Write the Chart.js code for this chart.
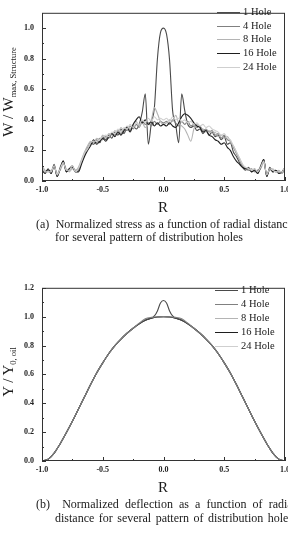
<!DOCTYPE html>
<html>
<head>
<meta charset="utf-8">
<script src="https://cdn.jsdelivr.net/npm/chart.js@4.4.1/dist/chart.umd.min.js"></script>
<style>
  html, body { margin: 0; padding: 0; width: 288px; height: 533px; overflow: hidden; background: #fff; }
  body { position: relative; font-family: 'Liberation Serif', 'Times New Roman', serif; color: #1a1a1a; }
  .box { position: absolute; left: 0; width: 300px; }
  .ytitle { position: absolute; white-space: nowrap; font-size: 15px; line-height: 15px; transform: translate(-50%, -50%) rotate(-90deg); }
  .ytitle sub { font-size: 8.5px; vertical-align: -3px; }
  .xtitle { position: absolute; font-size: 15px; line-height: 15px; transform: translate(-50%, -50%); }
  .cap { position: absolute; font-size: 12px; line-height: 13px; white-space: nowrap; text-align: justify; text-align-last: justify; color: #1a1a1a; }
  .leg { position: absolute; font-size: 10.5px; line-height: 12px; white-space: nowrap; }
  .leg span { display: inline-block; vertical-align: middle; height: 0; border-top: 1.2px solid; margin-right: 3px; }
</style>
</head>
<body>
<div class="box" style="top:0;height:200px"><canvas id="cA"></canvas></div>
<div class="box" style="top:275px;height:205px"><canvas id="cB"></canvas></div>

<div class="ytitle" style="left:11px;top:92px">W / W<sub>max, Structure</sub></div>
<div class="xtitle" style="left:163px;top:207px">R</div>
<div class="cap" style="left:36px;top:218px;width:257px">(a)&nbsp; Normalized stress as a function of radial distance</div>
<div class="cap" style="left:55px;top:231px;width:188px">for several pattern of distribution holes</div>

<div class="ytitle" style="left:11px;top:372px">Y / Y<sub>0, oil</sub></div>
<div class="xtitle" style="left:163px;top:487px">R</div>
<div class="cap" style="left:36px;top:498px;width:260px">(b)&nbsp; Normalized deflection as a function of radial</div>
<div class="cap" style="left:55px;top:512px;width:238px">distance for several pattern of distribution holes</div>

<div id="legA"></div>
<div id="legB"></div>

<script>
// ---- datos ----
const seriesNames = ['1 Hole', '4 Hole', '8 Hole', '16 Hole', '24 Hole'];
const seriesColors = ['#4a4a4a', '#808080', '#b4b4b4', '#1e1e1e', '#cfcfcf'];

const xTicks = [-1, -0.5, 0, 0.5, 1];
const xMinor = [-0.75, -0.25, 0.25, 0.75];
const yTicksA = [0, 0.2, 0.4, 0.6, 0.8, 1.0];
const yMinorA = [0.1, 0.3, 0.5, 0.7, 0.9];
const yTicksB = [0, 0.2, 0.4, 0.6, 0.8, 1.0, 1.2];
const yMinorB = [0.1, 0.3, 0.5, 0.7, 0.9, 1.1];

// (a) tensión normalizada
const rA = [-1, -0.975, -0.95, -0.925, -0.9, -0.875, -0.85, -0.825, -0.8, -0.775,
  -0.75, -0.725, -0.7, -0.675, -0.65, -0.625, -0.6, -0.575, -0.55, -0.525,
  -0.5, -0.475, -0.45, -0.425, -0.4, -0.375, -0.35, -0.325, -0.3, -0.275,
  -0.25, -0.225, -0.2, -0.175, -0.15, -0.125, -0.1, -0.075, -0.05, -0.025,
  0,
  0.025, 0.05, 0.075, 0.1, 0.125, 0.15, 0.175, 0.2, 0.225, 0.25,
  0.275, 0.3, 0.325, 0.35, 0.375, 0.4, 0.425, 0.45, 0.475, 0.5,
  0.525, 0.55, 0.575, 0.6, 0.625, 0.65, 0.675, 0.7, 0.725, 0.75,
  0.775, 0.8, 0.825, 0.85, 0.875, 0.9, 0.925, 0.95, 0.975, 1];

const hole1A = [0.09, 0.06, 0.07, 0.05, 0.11, 0.03, 0.09, 0.13, 0.06, 0.08,
  0.10, 0.06, 0.07, 0.12, 0.17, 0.21, 0.25, 0.24, 0.27, 0.25,
  0.29, 0.27, 0.30, 0.28, 0.32, 0.30, 0.34, 0.31, 0.35, 0.33,
  0.36, 0.34, 0.37, 0.45, 0.57, 0.24, 0.38, 0.48, 0.80, 0.97,
  1.00,
  0.96, 0.79, 0.46, 0.37, 0.25, 0.57, 0.46, 0.37, 0.35, 0.36,
  0.33, 0.34, 0.31, 0.33, 0.30, 0.32, 0.29, 0.30, 0.27, 0.29,
  0.24, 0.25, 0.19, 0.16, 0.12, 0.09, 0.07, 0.09, 0.06, 0.08,
  0.05, 0.10, 0.14, 0.03, 0.09, 0.06, 0.07, 0.05, 0.06, 0.09];

const hole4A = [0.08, 0.05, 0.07, 0.06, 0.10, 0.04, 0.08, 0.12, 0.07, 0.07,
  0.09, 0.07, 0.08, 0.13, 0.18, 0.22, 0.24, 0.26, 0.25, 0.28,
  0.27, 0.29, 0.28, 0.31, 0.30, 0.33, 0.31, 0.34, 0.33, 0.36,
  0.34, 0.37, 0.35, 0.39, 0.37, 0.38, 0.36, 0.39, 0.37, 0.39,
  0.38,
  0.39, 0.37, 0.40, 0.38, 0.36, 0.39, 0.37, 0.39, 0.36, 0.37,
  0.35, 0.36, 0.33, 0.34, 0.32, 0.33, 0.30, 0.31, 0.28, 0.30,
  0.27, 0.26, 0.22, 0.18, 0.14, 0.10, 0.08, 0.07, 0.08, 0.06,
  0.07, 0.09, 0.13, 0.04, 0.08, 0.07, 0.06, 0.06, 0.05, 0.08];

const hole8A = [0.10, 0.07, 0.06, 0.07, 0.09, 0.05, 0.07, 0.11, 0.08, 0.06,
  0.08, 0.07, 0.09, 0.14, 0.19, 0.23, 0.26, 0.25, 0.28, 0.27,
  0.30, 0.28, 0.31, 0.30, 0.33, 0.31, 0.35, 0.33, 0.36, 0.34,
  0.37, 0.39, 0.36, 0.38, 0.35, 0.37, 0.40, 0.48, 0.44, 0.39,
  0.37,
  0.38, 0.40, 0.39, 0.43, 0.38, 0.36, 0.34, 0.30, 0.26, 0.34,
  0.37, 0.35, 0.34, 0.32, 0.33, 0.31, 0.32, 0.29, 0.30, 0.28,
  0.29, 0.26, 0.23, 0.19, 0.15, 0.11, 0.08, 0.08, 0.07, 0.07,
  0.06, 0.08, 0.12, 0.05, 0.07, 0.08, 0.06, 0.07, 0.05, 0.09];

const hole16A = [0.07, 0.05, 0.08, 0.05, 0.10, 0.03, 0.08, 0.13, 0.06, 0.08,
  0.09, 0.06, 0.06, 0.11, 0.16, 0.20, 0.23, 0.27, 0.24, 0.26,
  0.28, 0.26, 0.29, 0.31, 0.29, 0.32, 0.30, 0.33, 0.35, 0.32,
  0.37, 0.40, 0.42, 0.38, 0.40, 0.37, 0.39, 0.36, 0.38, 0.36,
  0.37,
  0.36, 0.38, 0.36, 0.35, 0.38, 0.42, 0.44, 0.43, 0.41, 0.38,
  0.36, 0.35, 0.32, 0.33, 0.30, 0.29, 0.27, 0.26, 0.24, 0.25,
  0.22, 0.20, 0.16, 0.13, 0.11, 0.09, 0.08, 0.08, 0.06, 0.07,
  0.05, 0.09, 0.14, 0.03, 0.08, 0.06, 0.07, 0.05, 0.06, 0.08];

const hole24A = [0.09, 0.06, 0.06, 0.06, 0.10, 0.04, 0.08, 0.12, 0.07, 0.07,
  0.10, 0.06, 0.08, 0.13, 0.18, 0.21, 0.25, 0.26, 0.26, 0.27,
  0.29, 0.30, 0.29, 0.32, 0.31, 0.34, 0.32, 0.35, 0.34, 0.37,
  0.35, 0.38, 0.37, 0.40, 0.38, 0.41, 0.39, 0.42, 0.40, 0.41,
  0.40,
  0.41, 0.39, 0.42, 0.40, 0.41, 0.39, 0.40, 0.38, 0.39, 0.37,
  0.38, 0.36, 0.37, 0.35, 0.36, 0.34, 0.33, 0.32, 0.30, 0.31,
  0.28, 0.27, 0.23, 0.19, 0.15, 0.11, 0.09, 0.08, 0.07, 0.08,
  0.06, 0.09, 0.13, 0.04, 0.08, 0.07, 0.06, 0.06, 0.06, 0.09];

// (b) deflexión normalizada
const rB = [-1, -0.95, -0.9, -0.85, -0.8, -0.75, -0.7, -0.65, -0.6, -0.55,
  -0.5, -0.45, -0.4, -0.35, -0.3, -0.25, -0.2, -0.15, -0.1, -0.05,
  0,
  0.05, 0.1, 0.15, 0.2, 0.25, 0.3, 0.35, 0.4, 0.45, 0.5,
  0.55, 0.6, 0.65, 0.7, 0.75, 0.8, 0.85, 0.9, 0.95, 1];

// 1 Hole tiene puntos extra cerca del centro (pico)
const rB1 = [-1, -0.95, -0.9, -0.85, -0.8, -0.75, -0.7, -0.65, -0.6, -0.55,
  -0.5, -0.45, -0.4, -0.35, -0.3, -0.25, -0.2, -0.15, -0.1, -0.075,
  -0.05, -0.025, 0, 0.025, 0.05, 0.075,
  0.1, 0.15, 0.2, 0.25, 0.3, 0.35, 0.4, 0.45, 0.5,
  0.55, 0.6, 0.65, 0.7, 0.75, 0.8, 0.85, 0.9, 0.95, 1];

const hole1B = [0, 0.012, 0.055, 0.12, 0.195, 0.275, 0.36, 0.445, 0.53, 0.61,
  0.68, 0.745, 0.80, 0.845, 0.885, 0.92, 0.95, 0.975, 0.99, 1.005,
  1.04, 1.095, 1.112, 1.095, 1.04, 1.005,
  0.99, 0.975, 0.95, 0.92, 0.885, 0.845, 0.80, 0.745, 0.68,
  0.61, 0.53, 0.445, 0.36, 0.275, 0.195, 0.12, 0.055, 0.012, 0];

const hole4B = [0, 0.012, 0.055, 0.12, 0.195, 0.275, 0.36, 0.445, 0.53, 0.61,
  0.68, 0.745, 0.80, 0.845, 0.885, 0.92, 0.955, 0.985, 0.995, 0.998,
  1.0,
  0.998, 0.995, 0.985, 0.955, 0.92, 0.885, 0.845, 0.80, 0.745, 0.68,
  0.61, 0.53, 0.445, 0.36, 0.275, 0.195, 0.12, 0.055, 0.012, 0];

const hole8B = [0, 0.012, 0.055, 0.12, 0.195, 0.275, 0.36, 0.445, 0.53, 0.61,
  0.68, 0.745, 0.80, 0.845, 0.885, 0.92, 0.95, 0.975, 0.99, 0.998,
  1.0,
  0.998, 0.99, 0.975, 0.95, 0.92, 0.885, 0.845, 0.80, 0.745, 0.68,
  0.61, 0.53, 0.445, 0.36, 0.275, 0.195, 0.12, 0.055, 0.012, 0];

const hole16B = [0, 0.012, 0.055, 0.12, 0.195, 0.275, 0.36, 0.445, 0.53, 0.61,
  0.68, 0.745, 0.80, 0.845, 0.885, 0.92, 0.95, 0.975, 0.99, 0.998,
  1.0,
  0.998, 0.99, 0.975, 0.95, 0.92, 0.885, 0.845, 0.80, 0.745, 0.68,
  0.61, 0.53, 0.445, 0.36, 0.275, 0.195, 0.12, 0.055, 0.012, 0];

const hole24B = [0, 0.012, 0.055, 0.12, 0.195, 0.275, 0.36, 0.445, 0.53, 0.61,
  0.68, 0.745, 0.80, 0.845, 0.885, 0.92, 0.95, 0.975, 0.99, 0.998,
  1.0,
  0.998, 0.99, 0.975, 0.95, 0.92, 0.885, 0.845, 0.80, 0.745, 0.68,
  0.61, 0.53, 0.445, 0.36, 0.275, 0.195, 0.12, 0.055, 0.012, 0];

// ---- helpers ----
const pts = (xs, ys) => xs.map((x, i) => ({ x, y: ys[i] }));
const tickFont = { family: "'Liberation Serif', 'Times New Roman', serif", size: 8, weight: 'bold' };

// marco + marcas de eje hacia adentro (como en Origin)
const frameTicks = {
  id: 'frameTicks',
  afterDraw(chart, args, o) {
    const { ctx, chartArea: a, scales: { x, y } } = chart;
    ctx.save();
    ctx.strokeStyle = '#333';
    ctx.lineWidth = 1;
    ctx.strokeRect(a.left + 0.5, a.top + 0.5, a.width - 1, a.height - 1);
    ctx.beginPath();
    const vx = (v, len) => { const p = Math.round(x.getPixelForValue(v)) + 0.5; ctx.moveTo(p, a.bottom); ctx.lineTo(p, a.bottom - len); };
    const vy = (v, len) => { const p = Math.round(y.getPixelForValue(v)) + 0.5; ctx.moveTo(a.left, p); ctx.lineTo(a.left + len, p); };
    o.xMajor.forEach(v => vx(v, 4));
    o.xMinor.forEach(v => vx(v, 2));
    o.yMajor.forEach(v => vy(v, 4));
    o.yMinor.forEach(v => vy(v, 2));
    ctx.stroke();
    ctx.restore();
  }
};

function makeOpts(yMax, yTicks, yMinor, padTop) {
  return {
    responsive: true, maintainAspectRatio: false, animation: false,
    layout: { padding: { top: padTop, right: 15, left: 0, bottom: 0 } },
    plugins: {
      legend: { display: false }, tooltip: { enabled: false },
      frameTicks: { xMajor: xTicks, xMinor: xMinor, yMajor: yTicks, yMinor: yMinor }
    },
    elements: { point: { radius: 0 }, line: { borderWidth: 1, cubicInterpolationMode: 'monotone' } },
    scales: {
      x: {
        type: 'linear', min: -1, max: 1,
        grid: { display: false, drawTicks: false }, border: { display: false },
        afterBuildTicks: s => { s.ticks = xTicks.map(v => ({ value: v })); },
        afterFit: s => { s.height = 19; },
        ticks: { color: '#222', font: tickFont, padding: 4, maxRotation: 0, callback: v => v.toFixed(1) }
      },
      y: {
        min: 0, max: yMax,
        grid: { display: false, drawTicks: false }, border: { display: false },
        afterBuildTicks: s => { s.ticks = yTicks.map(v => ({ value: v })); },
        afterFit: s => { s.width = 42; },
        ticks: { color: '#222', font: tickFont, padding: 8, callback: v => v.toFixed(1) }
      }
    }
  };
}

// order: mayor = se dibuja antes (debajo)
function makeSets(list, order) {
  return list.map((d, i) => ({
    label: seriesNames[i], data: d, borderColor: seriesColors[i],
    borderWidth: 1.1, fill: false, order: order[i]
  }));
}

new Chart('cA', {
  type: 'line',
  data: { datasets: makeSets([pts(rA, hole1A), pts(rA, hole4A), pts(rA, hole8A), pts(rA, hole16A), pts(rA, hole24A)], [5, 4, 3, 2, 1]) },
  options: makeOpts(1.1, yTicksA, yMinorA, 3),
  plugins: [frameTicks]
});

new Chart('cB', {
  type: 'line',
  data: { datasets: makeSets([pts(rB1, hole1B), pts(rB, hole4B), pts(rB, hole8B), pts(rB, hole16B), pts(rB, hole24B)], [2, 1, 4, 3, 5]) },
  options: makeOpts(1.2, yTicksB, yMinorB, 8),
  plugins: [frameTicks]
});

// leyendas (texto real)
function legend(id, left, top0, step) {
  const host = document.getElementById(id);
  seriesNames.forEach((n, i) => {
    const row = document.createElement('div');
    row.className = 'leg';
    row.style.left = left + 'px';
    row.style.top = (top0 + i * step) + 'px';
    row.innerHTML = `<span style="width:23px;border-color:${seriesColors[i]}"></span>${n}`;
    host.appendChild(row);
  });
}
legend('legA', 217, 6, 13.7);
legend('legB', 215, 284, 14);
</script>
</body>
</html>
